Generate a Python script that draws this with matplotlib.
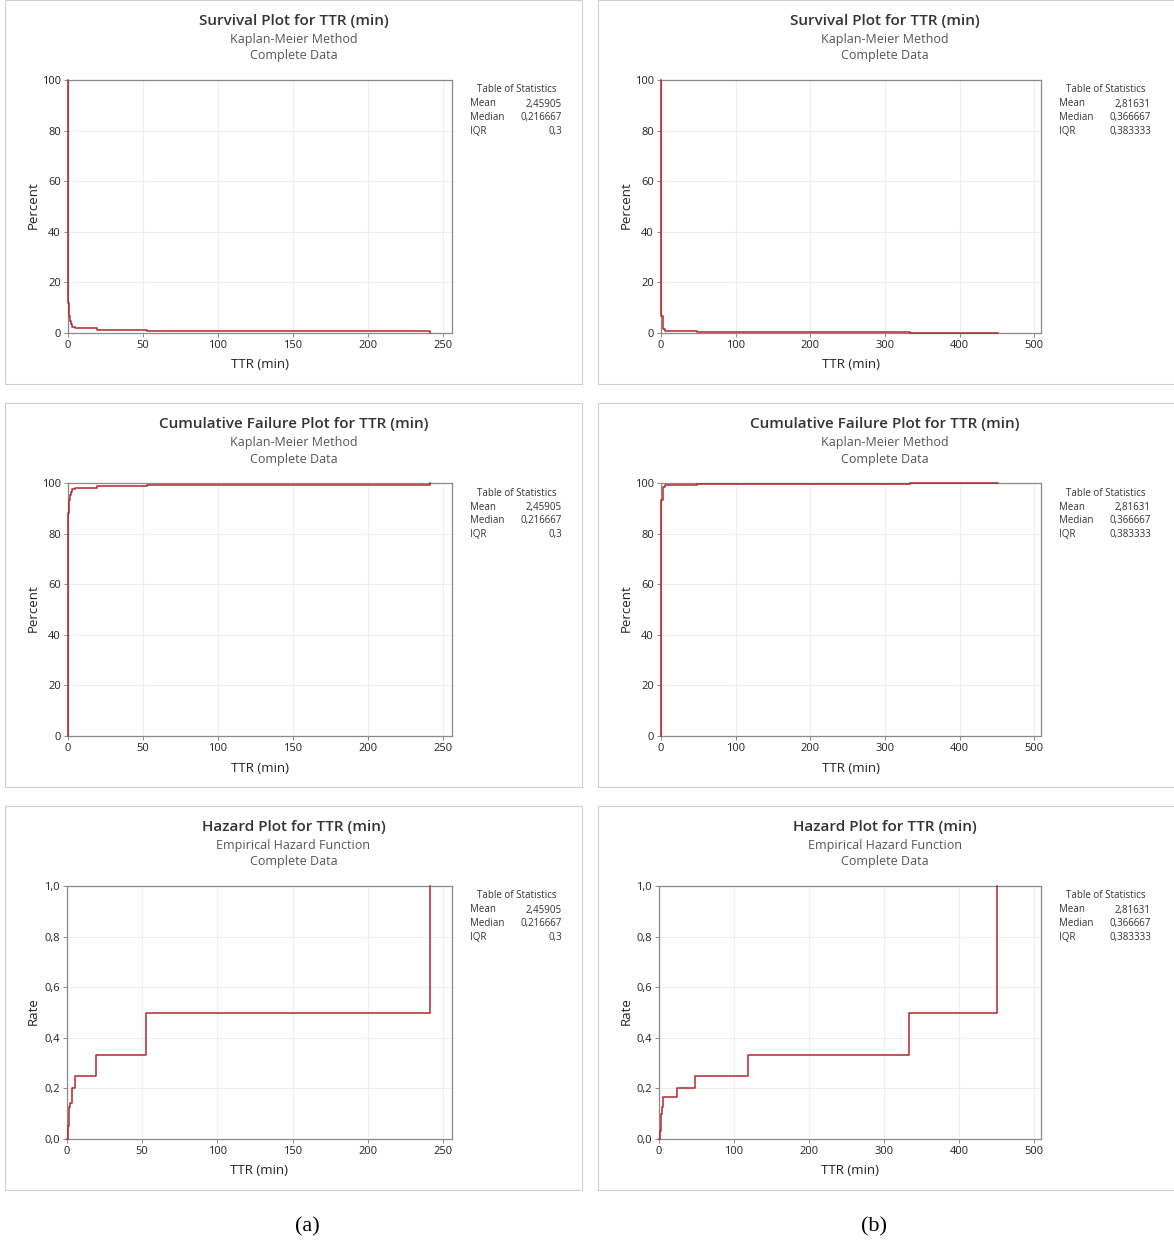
import numpy as np
import matplotlib; matplotlib.use('Agg')
import matplotlib.pyplot as plt
from matplotlib.patches import Rectangle
from matplotlib.ticker import FuncFormatter

plt.rcParams['font.family'] = ['Open Sans', 'DejaVu Sans']

# (a) Kaplan-Meier survival estimate, percent
surv_t_a = [0, 0.1, 0.65, 1.3, 1.9, 2.6, 4.5, 19.0, 52.5, 241.3]
surv_p_a = [100, 11.7, 6.7, 4.7, 3.6, 2.5, 1.9, 1.2, 0.6, 0]
# (a) empirical hazard
haz_t_a = [0, 0.4, 1.0, 1.5, 2.2, 3.0, 5.0, 19.3, 52.7, 241.3]
haz_r_a = [0, 0.05, 0.09, 0.125, 0.143, 0.2, 0.25, 0.333, 0.5, 1.0]

# (b) Kaplan-Meier survival estimate, percent
surv_t_b = [0, 0.5, 2.2, 5.3, 24.4, 48.4, 118, 333, 451]
surv_p_b = [100, 6.7, 1.7, 0.83, 0.67, 0.5, 0.33, 0.17, 0]
# (b) empirical hazard
haz_t_b = [0, 0.9, 2.7, 4.0, 5.3, 24.4, 48.4, 118, 333, 451]
haz_r_b = [0, 0.03, 0.1, 0.125, 0.167, 0.2, 0.25, 0.333, 0.5, 1.0]

stats_a = [('Mean', '2,45905'), ('Median', '0,216667'), ('IQR', '0,3')]
stats_b = [('Mean', '2,81631'), ('Median', '0,366667'), ('IQR', '0,383333')]

W, H = 1174, 1247
RED = '#b0282c'
fig = plt.figure(figsize=(W/100, H/100), dpi=100)

def fx(px): return px / W
def fy(py): return 1 - py / H

def panel(x0, x1, y0, ax_left, ax_right, xmax, xticks, title, sub, ylabel,
          t, v, stats, ymax, yticks, comma):
    fig.add_artist(Rectangle((fx(x0), fy(y0+384)), fx(x1-x0), 384/H,
                             transform=fig.transFigure, fill=False,
                             ec='#cfcfcf', lw=0.8))
    cx = (x0 + x1) / 2 if x1 < W else 885
    fig.text(fx(cx), fy(y0+21), title, ha='center', va='center',
             fontsize=11, fontweight='semibold', color='#333333')
    fig.text(fx(cx), fy(y0+39), sub, ha='center', va='center',
             fontsize=9, color='#555555')
    fig.text(fx(cx), fy(y0+56), 'Complete Data', ha='center', va='center',
             fontsize=9, color='#555555')
    ax = fig.add_axes([fx(ax_left), fy(y0+333), fx(ax_right-ax_left), 253/H])
    ax.step(t, v, where='post', color=RED, lw=1.1, zorder=4, clip_on=False)
    ax.set_xlim(0, xmax)
    ax.set_ylim(0, ymax)
    ax.set_xticks(xticks)
    ax.set_yticks(yticks)
    if comma:
        ax.yaxis.set_major_formatter(FuncFormatter(lambda y, p: f'{y:.1f}'.replace('.', ',')))
    ax.grid(True, color='#efefef', lw=0.8)
    ax.set_axisbelow(True)
    for s in ax.spines.values():
        s.set_color('#8a8a8a'); s.set_linewidth(0.9)
    ax.tick_params(length=3, width=0.7, color='#8a8a8a', labelsize=8,
                   labelcolor='#222222', pad=2)
    fig.text(fx((ax_left+ax_right)/2), fy(y0+365), 'TTR (min)', ha='center',
             va='center', fontsize=9.5, color='#222222')
    fig.text(fx(x0+28), fy(y0+205), ylabel, ha='center', va='center',
             rotation=90, fontsize=9.5, color='#222222')
    tx = ax_right + 18
    fig.text(fx(tx+47), fy(y0+90), 'Table of Statistics', ha='center',
             va='center', fontsize=7, color='#333333')
    for k, (lab, val) in enumerate(stats):
        yy = y0 + 104 + k*13.7
        fig.text(fx(tx), fy(yy), lab, ha='left', va='center', fontsize=7,
                 color='#333333')
        fig.text(fx(tx+92), fy(yy), val, ha='right', va='center', fontsize=7,
                 color='#333333')
    return ax

rows = [(0, 'Survival Plot for TTR (min)', 'Kaplan-Meier Method', 'Percent', 'surv'),
        (403, 'Cumulative Failure Plot for TTR (min)', 'Kaplan-Meier Method', 'Percent', 'fail'),
        (806, 'Hazard Plot for TTR (min)', 'Empirical Hazard Function', 'Rate', 'haz')]

for y0, title, sub, ylab, kind in rows:
    for side in ('a', 'b'):
        if side == 'a':
            x0, x1 = 5, 582
            st, sp, ht, hr, stats = surv_t_a, surv_p_a, haz_t_a, haz_r_a, stats_a
            xmax, xticks = 256, [0, 50, 100, 150, 200, 250]
            left = 67 if kind == 'haz' else 68
            right = 452
        else:
            x0, x1 = 598, 1180
            st, sp, ht, hr, stats = surv_t_b, surv_p_b, haz_t_b, haz_r_b, stats_b
            xmax, xticks = 509, [0, 100, 200, 300, 400, 500]
            left = 659 if kind == 'haz' else 661
            right = 1041
        if kind == 'surv':
            t, v = st, sp
        elif kind == 'fail':
            t, v = st, [100 - p for p in sp]
        else:
            t, v = ht, hr
        if kind == 'haz':
            ymax, yticks, comma = 1.0, [0, 0.2, 0.4, 0.6, 0.8, 1.0], True
        else:
            ymax, yticks, comma = 100, [0, 20, 40, 60, 80, 100], False
        panel(x0, x1, y0, left, right, xmax, xticks, title, sub, ylab,
              t, v, stats, ymax, yticks, comma)

fig.text(fx(307), fy(1227), '(a)', ha='center', va='center', fontsize=16,
         family=['Liberation Serif', 'DejaVu Serif'])
fig.text(fx(874), fy(1227), '(b)', ha='center', va='center', fontsize=16,
         family=['Liberation Serif', 'DejaVu Serif'])

fig.savefig('out.png', dpi=100)
